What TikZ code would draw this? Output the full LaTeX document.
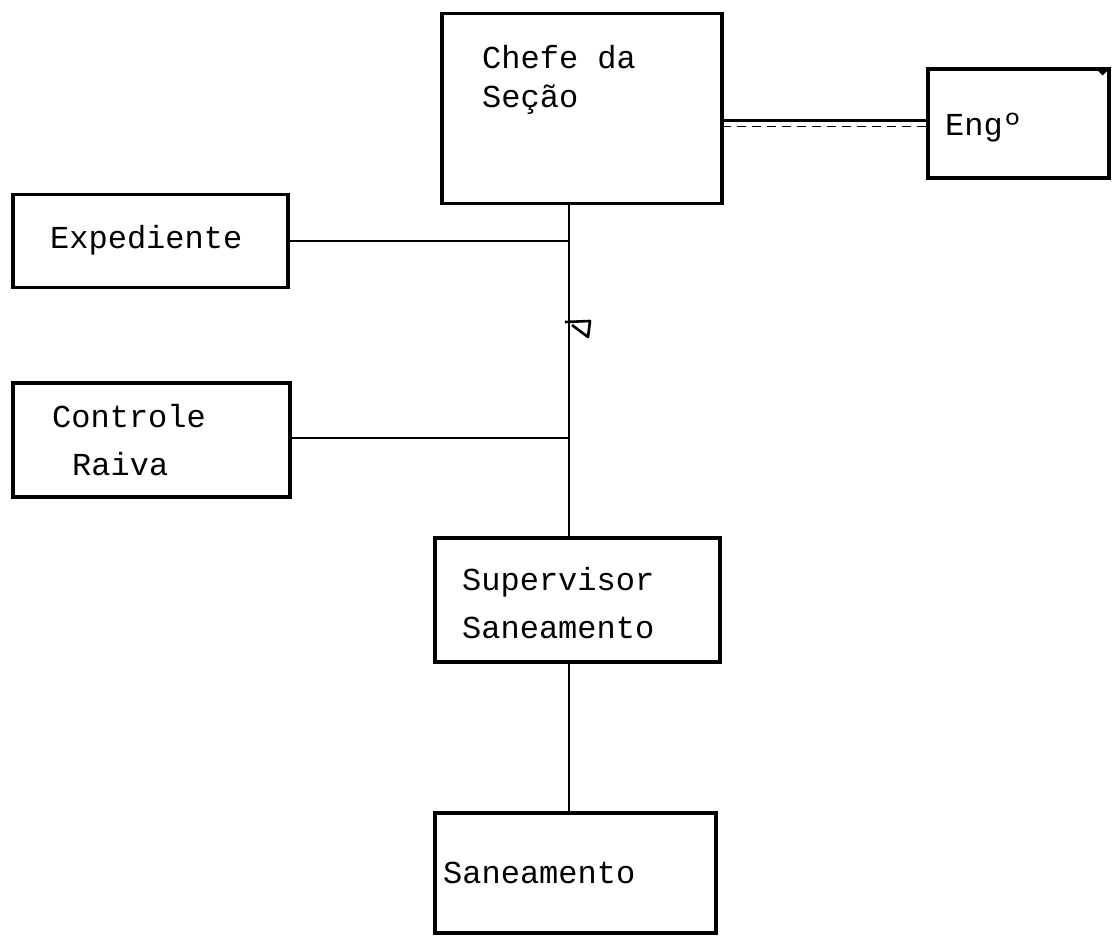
\documentclass[tikz,border=0pt]{standalone}
\usepackage{fontspec}
\setmainfont{Liberation Mono}
\begin{document}
\begin{tikzpicture}[x=1pt,y=-1pt,
  box/.style={draw, line width=3.2pt, rectangle, inner sep=0pt},
  lbl/.style={anchor=base west, inner sep=0pt, font=\fontsize{32}{38}\selectfont},
  link/.style={line width=2.5pt},
  faint/.style={line width=1.2pt, dashed, dash pattern=on 9pt off 6pt}]
\useasboundingbox (0,0) rectangle (1118,943);

% boxes (centre, width, height)
\node[box, minimum width=280, minimum height=190] (chefe) at (582,108.5) {};
\node[box, minimum width=181, minimum height=109] (eng)   at (1018.5,123.5) {};
\node[box, minimum width=275, minimum height=93]  (exp)   at (150.5,241) {};
\node[box, minimum width=277, minimum height=114] (ctrl)  at (151.5,440) {};
\node[box, minimum width=285, minimum height=124] (sup)   at (577.5,600) {};
\node[box, minimum width=281, minimum height=120] (san)   at (575.5,873) {};

% texts
\node[lbl] (t1) at (482,68)  {Chefe da};
\node[lbl] (t2) at (482,107) {Seção};
\node[lbl] (t3) at (945,135) {Engº};
\node[lbl] (t4) at (50,248)  {Expediente};
\node[lbl] (t5) at (52,427)  {Controle};
\node[lbl] (t6) at (72,475)  {Raiva};
\node[lbl] (t7) at (462,590) {Supervisor};
\node[lbl] (t8) at (462,638) {Saneamento};
\node[lbl] (t9) at (443,883) {Saneamento};

% main vertical spine
\coordinate (spine) at (569,0);
\draw[link] (chefe.south -| spine) -- (sup.north -| spine);
\draw[link] (sup.south -| spine) -- (san.north -| spine);

% side branches
\draw[link] (exp.east) -- (exp.east -| spine);
\draw[link] ([yshift=2pt]ctrl.east) -- ([yshift=2pt]ctrl.east -| spine);

% staff link to Engº, solid with a faint dashed companion
\draw[link] ([yshift=3pt]eng.west) -- ([yshift=3pt]eng.west -| chefe.east);
\draw[faint] ([yshift=-3pt]eng.west) -- ([yshift=-3pt]eng.west -| chefe.east);

% pen tick on the spine
\coordinate (tick) at (569,322);
\draw[line width=2.6pt, line join=round]
  ([xshift=-4pt]tick) -- ([xshift=21pt,yshift=1pt]tick)
  -- ([xshift=19pt,yshift=-15pt]tick) -- ([xshift=3pt,yshift=-3pt]tick);

% small corner mark on the Engº box
\fill ([xshift=-14pt,yshift=-2pt]eng.north east) -- ([xshift=-2pt,yshift=-2pt]eng.north east)
  -- ([xshift=-8pt,yshift=-8pt]eng.north east) -- cycle;
\end{tikzpicture}
\end{document}
